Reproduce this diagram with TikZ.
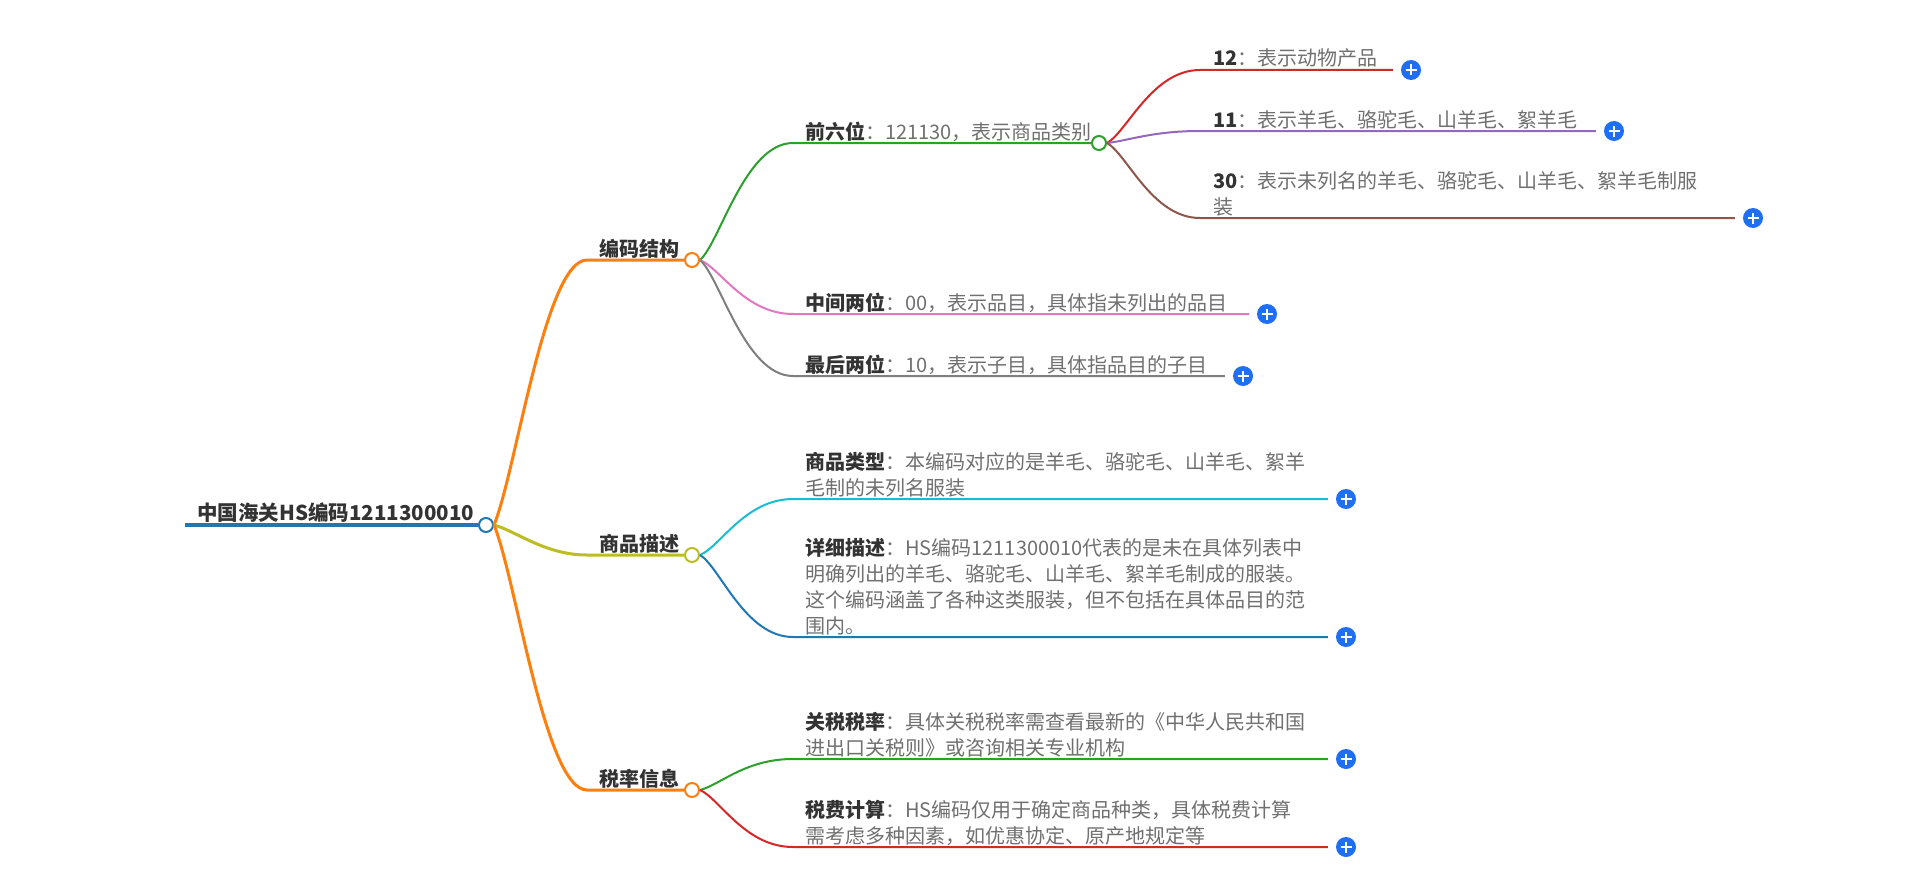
\documentclass[tikz,border=0pt]{standalone}
\usepackage{fontspec}
\setmainfont{Noto Sans CJK SC}
\definecolor{cOrange}{HTML}{FF7F0E}
\definecolor{cOlive}{HTML}{BCBD22}
\definecolor{cGreen}{HTML}{2CA02C}
\definecolor{cRed}{HTML}{D62728}
\definecolor{cPurple}{HTML}{9467BD}
\definecolor{cBrown}{HTML}{8C564B}
\definecolor{cPink}{HTML}{E377C2}
\definecolor{cGray}{HTML}{7F7F7F}
\definecolor{cCyan}{HTML}{17BECF}
\definecolor{cBlue}{HTML}{1F77B4}
\definecolor{txtdark}{HTML}{333333}
\definecolor{txtgray}{HTML}{707070}
\definecolor{plusblue}{HTML}{1F6FF5}
\newcommand{\mmlab}[1]{{\bfseries\color{txtdark}#1}}
\tikzset{
  mmtext/.style={anchor=base west, inner sep=0pt, align=left, text=txtgray,
    font=\fontsize{20}{25.7}\selectfont},
  lvltext/.style={anchor=base west, inner sep=0pt, text=txtdark,
    font=\fontsize{20}{25.5}\selectfont\bfseries},
  hub/.style={circle, fill=white, line width=2pt, minimum size=14pt, inner sep=0pt},
  plusbtn/.style={circle, fill=plusblue, minimum size=20pt, inner sep=0pt,
    path picture={\draw[white, line width=2pt]
      ([xshift=-5.5pt]path picture bounding box.center) -- ([xshift=5.5pt]path picture bounding box.center)
      ([yshift=-5.5pt]path picture bounding box.center) -- ([yshift=5.5pt]path picture bounding box.center);}},
  lvlone/.style={line width=3pt},
  lvltwo/.style={line width=2pt},
}
\begin{document}
\begin{tikzpicture}[x=1pt, y=-1pt]
\fill[white] (0,0) rectangle (1920,891);
\useasboundingbox (0,0) rectangle (1920,891);

% root
\coordinate (rootstart) at (185,525);
\node[hub, draw=cBlue] (R) at (486,525) {};
\draw[line width=4pt, cBlue] (rootstart) -- (R.west);
\node[anchor=base west, inner sep=0pt, text=txtdark, font=\fontsize{20.5}{26}\selectfont\bfseries] (Rt) at (197,520) {中国海关HS编码1211300010};

% level 1 hubs
\node[hub, draw=cOrange] (A) at (692,260) {};
\node[hub, draw=cOlive] (B) at (692,555) {};
\node[hub, draw=cOrange] (C) at (692,790) {};
\coordinate (Aa) at (587,260);
\coordinate (Ba) at (587,555);
\coordinate (Ca) at (587,790);
\draw[lvlone, cOrange] (R.east) .. controls (516,472) and (545,260) .. (Aa) -- (A.west);
\draw[lvlone, cOlive] (R.east) .. controls (516,531) and (545,555) .. (Ba) -- (B.west);
\draw[lvlone, cOrange] (R.east) .. controls (516,578) and (545,790) .. (Ca) -- (C.west);
\node[lvltext] (At) at (599,256) {编码结构};
\node[lvltext] (Bt) at (599,551) {商品描述};
\node[lvltext] (Ct) at (599,786) {税率信息};

% level 2 under 编码结构
\node[hub, draw=cGreen] (A1) at (1099,143) {};
\coordinate (A1s) at (793,143);
\draw[lvltwo, cGreen] (A.east) .. controls (720,242.5) and (745,143) .. (A1s) -- (A1.west);
\node[mmtext] (A1t) at (805,139) {\mmlab{前六位}：121130，表示商品类别};

\node[plusbtn] (PA2) at (1267,314) {};
\coordinate (A2s) at (793,314);
\draw[lvltwo, cPink] (A.east) .. controls (720,268) and (745,314) .. (A2s) -- ([xshift=-8pt]PA2.west);
\node[mmtext] (A2t) at (805,310) {\mmlab{中间两位}：00，表示品目，具体指未列出的品目};

\node[plusbtn] (PA3) at (1243,376) {};
\coordinate (A3s) at (793,376);
\draw[lvltwo, cGray] (A.east) .. controls (720,277) and (745,376) .. (A3s) -- ([xshift=-8pt]PA3.west);
\node[mmtext] (A3t) at (805,372) {\mmlab{最后两位}：10，表示子目，具体指品目的子目};

% level 3 under 前六位
\node[plusbtn] (PL1) at (1411,70) {};
\coordinate (L1s) at (1200,70);
\draw[lvltwo, cRed] (A1.east) .. controls (1127,132) and (1152,70) .. (L1s) -- ([xshift=-8pt]PL1.west);
\node[mmtext] (L1t) at (1213,66) {\mmlab{12}：表示动物产品};

\node[plusbtn] (PL2) at (1614,131) {};
\coordinate (L2s) at (1200,131);
\draw[lvltwo, cPurple] (A1.east) .. controls (1127,141) and (1152,131) .. (L2s) -- ([xshift=-8pt]PL2.west);
\node[mmtext] (L2t) at (1213,127) {\mmlab{11}：表示羊毛、骆驼毛、山羊毛、絮羊毛};

\node[plusbtn] (PL3) at (1753,218) {};
\coordinate (L3s) at (1200,218);
\draw[lvltwo, cBrown] (A1.east) .. controls (1127,154) and (1152,218) .. (L3s) -- ([xshift=-8pt]PL3.west);
\node[mmtext] (L3t) at (1213,214) {\mmlab{30}：表示未列名的羊毛、骆驼毛、山羊毛、絮羊毛制服\\装};

% level 2 under 商品描述
\node[plusbtn] (PB1) at (1346,499) {};
\coordinate (B1s) at (793,499);
\draw[lvltwo, cCyan] (B.east) .. controls (720,547) and (745,499) .. (B1s) -- ([xshift=-8pt]PB1.west);
\node[mmtext] (B1t) at (805,495) {\mmlab{商品类型}：本编码对应的是羊毛、骆驼毛、山羊毛、絮羊\\毛制的未列名服装};

\node[plusbtn] (PB2) at (1346,637) {};
\coordinate (B2s) at (793,637);
\draw[lvltwo, cBlue] (B.east) .. controls (720,567) and (745,637) .. (B2s) -- ([xshift=-8pt]PB2.west);
\node[mmtext] (B2t) at (805,633) {\mmlab{详细描述}：HS编码1211300010代表的是未在具体列表中\\明确列出的羊毛、骆驼毛、山羊毛、絮羊毛制成的服装。\\这个编码涵盖了各种这类服装，但不包括在具体品目的范\\围内。};

% level 2 under 税率信息
\node[plusbtn] (PC1) at (1346,759) {};
\coordinate (C1s) at (793,759);
\draw[lvltwo, cGreen] (C.east) .. controls (720,785) and (745,759) .. (C1s) -- ([xshift=-8pt]PC1.west);
\node[mmtext] (C1t) at (805,755) {\mmlab{关税税率}：具体关税税率需查看最新的《中华人民共和国\\进出口关税则》或咨询相关专业机构};

\node[plusbtn] (PC2) at (1346,847) {};
\coordinate (C2s) at (793,847);
\draw[lvltwo, cRed] (C.east) .. controls (720,799) and (745,847) .. (C2s) -- ([xshift=-8pt]PC2.west);
\node[mmtext] (C2t) at (805,843) {\mmlab{税费计算}：HS编码仅用于确定商品种类，具体税费计算\\需考虑多种因素，如优惠协定、原产地规定等};
\end{tikzpicture}
\end{document}
